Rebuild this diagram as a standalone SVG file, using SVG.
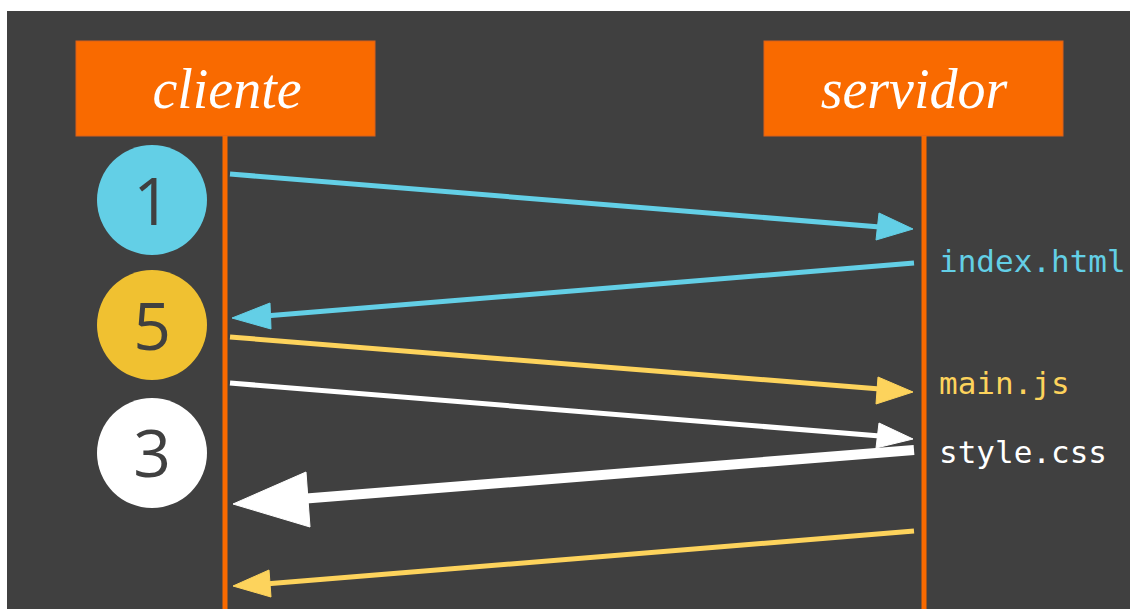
<svg xmlns="http://www.w3.org/2000/svg" width="1130" height="609" viewBox="0 0 1130 609">
<style>
.box{fill:#f96a00;stroke:#d9611a;stroke-width:1}
.title{font-family:"Liberation Serif",serif;font-style:italic;font-size:56px;fill:#fff;text-anchor:middle}
.life{stroke:#f96a00;stroke-width:5}
.num{font-family:"Open Sans","DejaVu Sans",sans-serif;font-weight:400;font-size:66px;fill:#404040;text-anchor:middle}
.lbl{font-family:"DejaVu Sans Mono","Liberation Mono",monospace;font-size:31px}
.cy{stroke:#63cfe6;fill:#63cfe6}
.ye{stroke:#fdd35c;fill:#fdd35c}
.wh{stroke:#fff;fill:#fff}
</style>
<rect x="0" y="0" width="1130" height="609" fill="#fff"/>
<rect x="7" y="11" width="1123" height="598" fill="#404040"/>
<g id="cliente">
<rect class="box" x="76" y="41" width="299" height="95"/>
<text class="title" x="227" y="108">cliente</text>
<line class="life" x1="225" y1="136" x2="225" y2="609"/>
</g>
<g id="servidor">
<rect class="box" x="764" y="41" width="299" height="95"/>
<text class="title" x="914" y="108">servidor</text>
<line class="life" x1="924" y1="136" x2="924" y2="609"/>
</g>
<g id="step1">
<circle cx="152" cy="200" r="55" fill="#63cfe6"/>
<text class="num" x="152" y="225">1</text>
</g>
<g id="step5">
<circle cx="152" cy="325" r="55" fill="#f0c131"/>
<text class="num" x="152" y="350">5</text>
</g>
<g id="step3">
<circle cx="152" cy="453" r="55" fill="#fff"/>
<text class="num" x="152" y="477">3</text>
</g>
<g id="labels">
<text class="lbl" x="939" y="272" fill="#63cfe6">index.html</text>
<text class="lbl" x="939" y="394" fill="#fdd35c">main.js</text>
<text class="lbl" x="939" y="463" fill="#fff">style.css</text>
</g>
<g id="connectors">
<line class="cy" x1="230" y1="174" x2="880" y2="227" stroke-width="5"/>
<polygon class="cy" points="913,229 876,240 879,213" stroke="none"/>
<line class="cy" x1="914" y1="263" x2="265" y2="316" stroke-width="5"/>
<polygon class="cy" points="232,318 270,303 271,329" stroke="none"/>
<line class="ye" x1="230" y1="337" x2="880" y2="389" stroke-width="5"/>
<polygon class="ye" points="913,392 876,404 878,377" stroke="none"/>
<line class="wh" x1="230" y1="383" x2="880" y2="436" stroke-width="5"/>
<polygon class="wh" points="913,439 876,448 879,423" stroke="none"/>
<line class="wh" x1="914" y1="450" x2="300" y2="499" stroke-width="10"/>
<polygon class="wh" points="233,504 306,472 310,527" stroke="none"/>
<line class="ye" x1="914" y1="531" x2="265" y2="584" stroke-width="5"/>
<polygon class="ye" points="233,586 269,570 271,597" stroke="none"/>
</g>
</svg>
